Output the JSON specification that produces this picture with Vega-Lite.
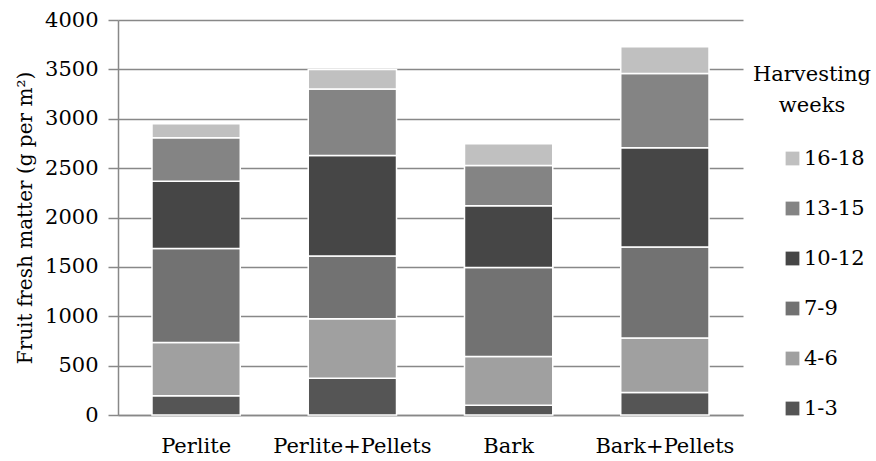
{
  "$schema": "https://vega.github.io/schema/vega-lite/v6.json",
  "width": 625,
  "height": 395,
  "autosize": {"type": "none"},
  "padding": {"left": 118, "top": 20, "right": 133, "bottom": 46},
  "background": "white",
  "data": {
    "values": [
      {"substrate": "Perlite", "weeks": "1-3", "k": 1, "value": 195},
      {"substrate": "Perlite", "weeks": "4-6", "k": 2, "value": 540},
      {"substrate": "Perlite", "weeks": "7-9", "k": 3, "value": 951},
      {"substrate": "Perlite", "weeks": "10-12", "k": 4, "value": 680},
      {"substrate": "Perlite", "weeks": "13-15", "k": 5, "value": 442},
      {"substrate": "Perlite", "weeks": "16-18", "k": 6, "value": 141},
      {"substrate": "Perlite+Pellets", "weeks": "1-3", "k": 1, "value": 371},
      {"substrate": "Perlite+Pellets", "weeks": "4-6", "k": 2, "value": 603},
      {"substrate": "Perlite+Pellets", "weeks": "7-9", "k": 3, "value": 636},
      {"substrate": "Perlite+Pellets", "weeks": "10-12", "k": 4, "value": 1018},
      {"substrate": "Perlite+Pellets", "weeks": "13-15", "k": 5, "value": 674},
      {"substrate": "Perlite+Pellets", "weeks": "16-18", "k": 6, "value": 196},
      {"substrate": "Bark", "weeks": "1-3", "k": 1, "value": 98},
      {"substrate": "Bark", "weeks": "4-6", "k": 2, "value": 495},
      {"substrate": "Bark", "weeks": "7-9", "k": 3, "value": 900},
      {"substrate": "Bark", "weeks": "10-12", "k": 4, "value": 627},
      {"substrate": "Bark", "weeks": "13-15", "k": 5, "value": 407},
      {"substrate": "Bark", "weeks": "16-18", "k": 6, "value": 220},
      {"substrate": "Bark+Pellets", "weeks": "1-3", "k": 1, "value": 229},
      {"substrate": "Bark+Pellets", "weeks": "4-6", "k": 2, "value": 552},
      {"substrate": "Bark+Pellets", "weeks": "7-9", "k": 3, "value": 920},
      {"substrate": "Bark+Pellets", "weeks": "10-12", "k": 4, "value": 1005},
      {"substrate": "Bark+Pellets", "weeks": "13-15", "k": 5, "value": 751},
      {"substrate": "Bark+Pellets", "weeks": "16-18", "k": 6, "value": 273}
    ]
  },
  "mark": {"type": "bar", "stroke": "white", "strokeWidth": 1.5},
  "encoding": {
    "x": {
      "field": "substrate",
      "type": "nominal",
      "sort": ["Perlite", "Perlite+Pellets", "Bark", "Bark+Pellets"],
      "scale": {"paddingInner": 0.435, "paddingOuter": 0.2175},
      "axis": {
        "title": null,
        "labelAngle": 0,
        "ticks": false,
        "labelPadding": 20,
        "labelFontSize": 21,
        "labelFont": "DejaVu Serif",
        "labelColor": "black",
        "domainColor": "#888888",
        "domainWidth": 1.5
      }
    },
    "y": {
      "field": "value",
      "type": "quantitative",
      "stack": "zero",
      "scale": {"domain": [0, 4000], "nice": false},
      "axis": {
        "title": "Fruit fresh matter (g per m²)",
        "titleFont": "DejaVu Serif",
        "titleFontSize": 20,
        "titleFontWeight": "normal",
        "titleColor": "black",
        "titlePadding": 9,
        "format": "d",
        "values": [0, 500, 1000, 1500, 2000, 2500, 3000, 3500, 4000],
        "labelFont": "DejaVu Serif",
        "labelFontSize": 21,
        "labelColor": "black",
        "labelPadding": 10,
        "tickSize": 10,
        "tickColor": "#888888",
        "tickWidth": 1.5,
        "grid": true,
        "gridColor": "#888888",
        "gridWidth": 1.5,
        "domain": true,
        "domainColor": "#888888",
        "domainWidth": 1.5
      }
    },
    "color": {
      "field": "weeks",
      "type": "nominal",
      "scale": {
        "domain": ["16-18", "13-15", "10-12", "7-9", "4-6", "1-3"],
        "range": ["#c0c0c0", "#848484", "#464646", "#727272", "#a0a0a0", "#555555"]
      },
      "legend": {
        "title": ["Harvesting", "weeks"],
        "orient": "none",
        "legendX": 635,
        "legendY": 44,
        "titleFont": "DejaVu Serif",
        "titleFontSize": 21,
        "titleFontWeight": "normal",
        "titleColor": "black",
        "titleLineHeight": 31,
        "titleAnchor": "middle",
        "titleAlign": "center",
        "titlePadding": 32,
        "labelFont": "DejaVu Serif",
        "labelFontSize": 21,
        "labelColor": "black",
        "labelOffset": 1,
        "symbolType": "square",
        "symbolSize": 190,
        "symbolStrokeWidth": 0,
        "symbolOffset": 23,
        "rowPadding": 28
      }
    },
    "order": {"field": "k", "type": "quantitative", "sort": "ascending"}
  },
  "config": {
    "view": {"stroke": null}
  }
}
